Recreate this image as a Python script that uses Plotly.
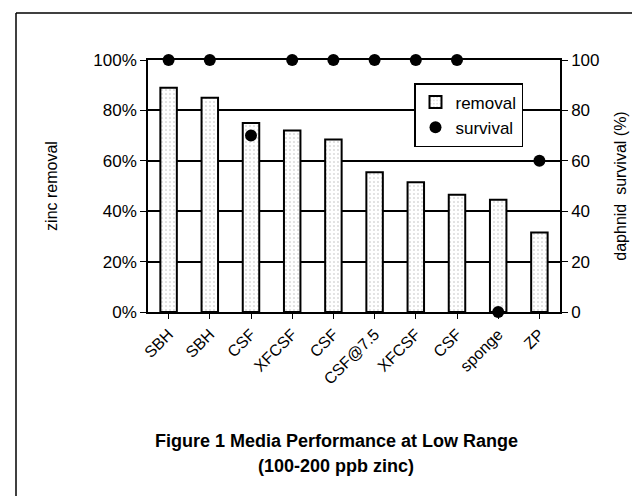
import plotly.graph_objects as go

categories = ["SBH", "SBH", "CSF", "XFCSF", "CSF", "CSF@7.5", "XFCSF", "CSF", "sponge", "ZP"]
removal = [0.89, 0.85, 0.75, 0.72, 0.685, 0.555, 0.515, 0.465, 0.445, 0.315]
survival = [100, 100, 70, 100, 100, 100, 100, 100, 0, 60]
left_ticks = [0, 0.2, 0.4, 0.6, 0.8, 1.0]
right_ticks = [0, 20, 40, 60, 80, 100]

x = list(range(len(categories)))
FONT = "Liberation Sans, Arial, sans-serif"

L, R, T, B = 140, 552, 52, 304
W, H = 640, 496
PW, PH = R - L, B - T

def px(v):
    return (v - L) / PW

def py(v):
    return (B - v) / PH

fig = go.Figure()
fig.add_trace(go.Bar(
    x=x, y=removal, name="removal", width=0.4,
    marker=dict(color="white", line=dict(color="black", width=2),
                pattern=dict(shape=".", fgcolor="#777", bgcolor="white", size=4, solidity=0.12)),
    yaxis="y",
))
fig.add_trace(go.Scatter(
    x=x, y=survival, name="survival", mode="markers",
    marker=dict(color="black", size=12), yaxis="y2", cliponaxis=False,
))

fig.update_layout(
    width=W, height=H,
    margin=dict(l=L, r=W - R, t=T, b=H - B),
    paper_bgcolor="white", plot_bgcolor="white",
    font=dict(family=FONT, color="black", size=16),
    showlegend=True,
    legend=dict(x=px(406), y=py(75), xanchor="left", yanchor="top",
                bgcolor="white", bordercolor="black", borderwidth=1.5,
                font=dict(size=17, family=FONT), itemsizing="constant",
                tracegroupgap=6),
    xaxis=dict(
        tickmode="array", tickvals=x, ticktext=categories, tickangle=-45,
        range=[-0.5, 9.5], showline=True, linecolor="black", linewidth=1.5,
        ticks="outside", tickson="boundaries", ticklen=5, tickcolor="black",
        showgrid=False, mirror=True, tickfont=dict(size=16),
    ),
    yaxis=dict(
        range=[0, 1], tickvals=left_ticks, tickformat=".0%",
        showline=True, linecolor="black", linewidth=1.5,
        ticks="outside", ticklen=6, tickcolor="black",
        showgrid=True, gridcolor="black", gridwidth=1.5,
        title=dict(text="zinc removal", font=dict(size=16), standoff=32),
        zeroline=False, tickfont=dict(size=17),
    ),
    yaxis2=dict(
        range=[0, 100], tickvals=right_ticks, overlaying="y", side="right",
        showline=True, linecolor="black", linewidth=1.5,
        ticks="outside", ticklen=6, tickcolor="black", showgrid=False,
        title=dict(text="daphnid  survival (%)", font=dict(size=16), standoff=16),
        zeroline=False, tickfont=dict(size=17),
    ),
    annotations=[
        dict(text="<b>Figure 1 Media Performance at Low Range</b>", xref="paper", yref="paper",
             x=px(328), y=py(433), xanchor="center", yanchor="middle",
             showarrow=False, font=dict(size=18, family=FONT)),
        dict(text="<b>(100-200 ppb zinc)</b>", xref="paper", yref="paper",
             x=px(328), y=py(458), xanchor="center", yanchor="middle",
             showarrow=False, font=dict(size=18, family=FONT)),
    ],
    shapes=[
        dict(type="line", xref="paper", yref="paper",
             x0=px(8), x1=px(8), y0=py(5), y1=py(500),
             line=dict(color="black", width=1.5)),
        dict(type="line", xref="paper", yref="paper",
             x0=px(8), x1=px(645), y0=py(5), y1=py(5),
             line=dict(color="black", width=1.5)),
    ],
)

fig.write_html("out.html")
